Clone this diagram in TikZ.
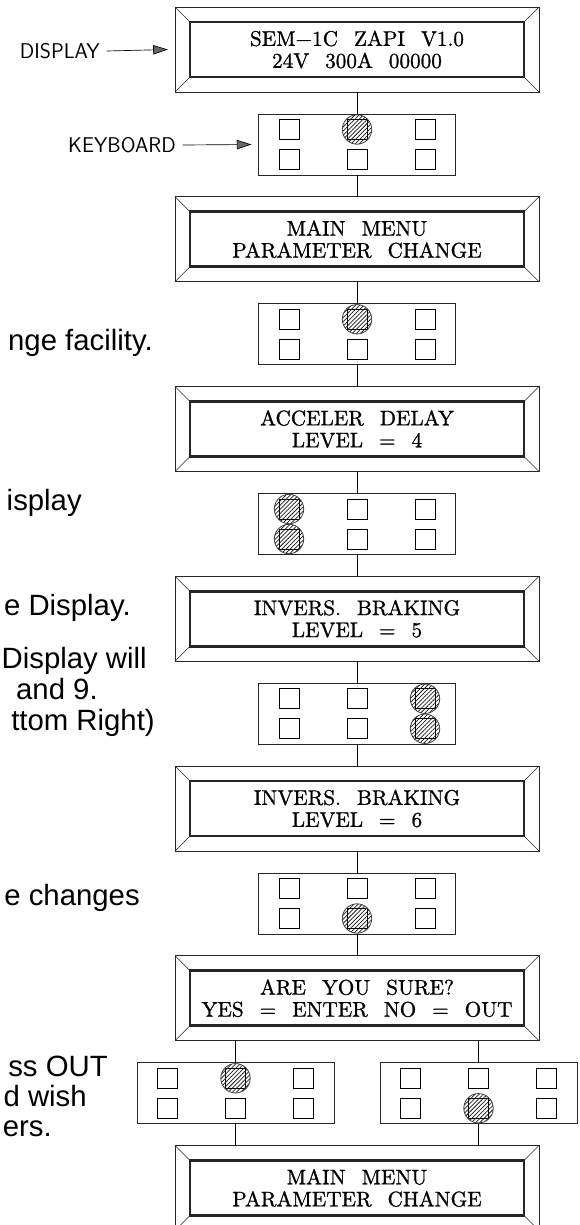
\documentclass[tikz,border=0pt]{standalone}
\usepackage{fontspec}
\newfontfamily\arialfont{Liberation Sans}
\newfontfamily\lcdserif{lmroman10-regular}[Extension=.otf, FakeBold=1]
\usetikzlibrary{arrows.meta,patterns.meta,calc}

\newcommand\lcdfont{\lcdserif\fontsize{15.9}{16.5}\selectfont\spaceskip=12pt\relax}

\tikzset{
  lcd/.style={draw=black!85, line width=0.7pt, minimum width=273pt, minimum height=63.75pt,
    inner sep=0pt, align=center, font=\lcdfont,
    path picture={
      \draw[line width=2.2pt]
        ([shift={(11.25pt,11.25pt)}]path picture bounding box.south west) rectangle
        ([shift={(-11.25pt,-11.25pt)}]path picture bounding box.north east);
      \draw[line width=0.5pt]
        (path picture bounding box.south west) -- ++(11.25pt,11.25pt)
        (path picture bounding box.north west) -- ++(11.25pt,-11.25pt)
        (path picture bounding box.north east) -- ++(-11.25pt,-11.25pt)
        (path picture bounding box.south east) -- ++(-11.25pt,11.25pt);
    }},
  kbd/.style={draw=black!85, line width=0.6pt, minimum width=147.75pt, minimum height=45.75pt, inner sep=0pt},
  keysq/.style={draw=black, line width=0.5pt},
  pressed/.style={draw=black!75, line width=0.6pt,
    pattern={Lines[angle=45,distance=2.2pt,line width=0.55pt]}, pattern color=black!90},
  link/.style={draw=black, line width=0.6pt},
  lbl/.style={font=\sffamily\fontsize{16}{19}\selectfont, inner sep=0pt},
  note/.style={font=\arialfont\fontsize{22}{26}\selectfont, inner sep=0pt, anchor=base east},
  pointer/.style={draw=black, line width=0.5pt, -{Triangle[length=11pt,width=7pt,fill=black!60]}},
}

\newcommand\kbkeys[2]{%
  \begin{scope}[shift={(#1.center)}]
    \foreach \kx in {-68,0,68}{\foreach \ky in {-15,15}{
      \draw[keysq] (\kx-10,\ky-10) rectangle (\kx+10,\ky+10);}}
    \foreach \p/\q in {#2}{\draw[pressed] (\p,\q) circle[radius=14.7];}
  \end{scope}}

\begin{document}
\begin{tikzpicture}[x=0.75pt,y=-0.75pt]
\fill[white] (0,0) rectangle (580,1225);
\useasboundingbox (0,0) rectangle (580,1225);

% displays
\node[lcd] (d1) at (357,49.5) {SEM−1C ZAPI V1.0\\24V 300A 00000};
\node[lcd] (d2) at (357,239.25) {MAIN MENU\\PARAMETER CHANGE};
\node[lcd] (d3) at (357,429) {ACCELER DELAY\\LEVEL = 4};
\node[lcd] (d4) at (357,618.75) {INVERS. BRAKING\\LEVEL = 5};
\node[lcd] (d5) at (357,808.5) {INVERS. BRAKING\\LEVEL = 6};
\node[lcd] (d6) at (357,998.25) {ARE YOU SURE?\\YES = ENTER NO = OUT};
\node[lcd] (d7) at (357,1188) {MAIN MENU\\PARAMETER CHANGE};

% keyboards
\node[kbd] (k1) at (357,144.5) {};
\node[kbd] (k2) at (357,334.25) {};
\node[kbd] (k3) at (357,524) {};
\node[kbd] (k4) at (357,713.75) {};
\node[kbd] (k5) at (357,903.5) {};
\node[kbd] (k6a) at (235.5,1093.25) {};
\node[kbd] (k6b) at (478.5,1093.25) {};

\kbkeys{k1}{0/-15}
\kbkeys{k2}{0/-15}
\kbkeys{k3}{-68/-15,-68/15}
\kbkeys{k4}{68/-15,68/15}
\kbkeys{k5}{0/15}
\kbkeys{k6a}{0/-15}
\kbkeys{k6b}{0/15}

% connectors
\draw[link] (d1) -- (k1);
\draw[link] (k1) -- (d2);
\draw[link] (d2) -- (k2);
\draw[link] (k2) -- (d3);
\draw[link] (d3) -- (k3);
\draw[link] (k3) -- (d4);
\draw[link] (d4) -- (k4);
\draw[link] (k4) -- (d5);
\draw[link] (d5) -- (k5);
\draw[link] (k5) -- (d6);
\draw[link] (d6.south -| k6a.north) -- (k6a.north);
\draw[link] (d6.south -| k6b.north) -- (k6b.north);
\draw[link] (k6a.south) -- (k6a.south |- d7.north);
\draw[link] (k6b.south) -- (k6b.south |- d7.north);

% labels with pointers
\node[lbl, anchor=east] (ldisp) at (100,51) {DISPLAY};
\draw[pointer] ([xshift=5pt]ldisp.east) -- ([xshift=-5pt]d1.west);
\node[lbl, anchor=east] (lkey) at (176,145) {KEYBOARD};
\draw[pointer] ([xshift=5pt]lkey.east) -- ([xshift=-5pt]k1.west);

% cut-off explanatory text
\node[note] (t1) at (153,350) {nge facility.};
\node[note] (t2) at (82,510) {isplay};
\node[note] (t3) at (131,615) {e Display.};
\node[note] (t4) at (147,668) {Display will};
\node[note] (t5) at (98,699) {and 9.};
\node[note] (t6) at (155,730) {ttom Right)};
\node[note] (t7) at (140,905) {e changes};
\node[note] (t8) at (108,1076) {ss OUT};
\node[note] (t9) at (87,1106) {d wish};
\node[note] (t10) at (52,1136) {ers.};
\end{tikzpicture}
\end{document}
